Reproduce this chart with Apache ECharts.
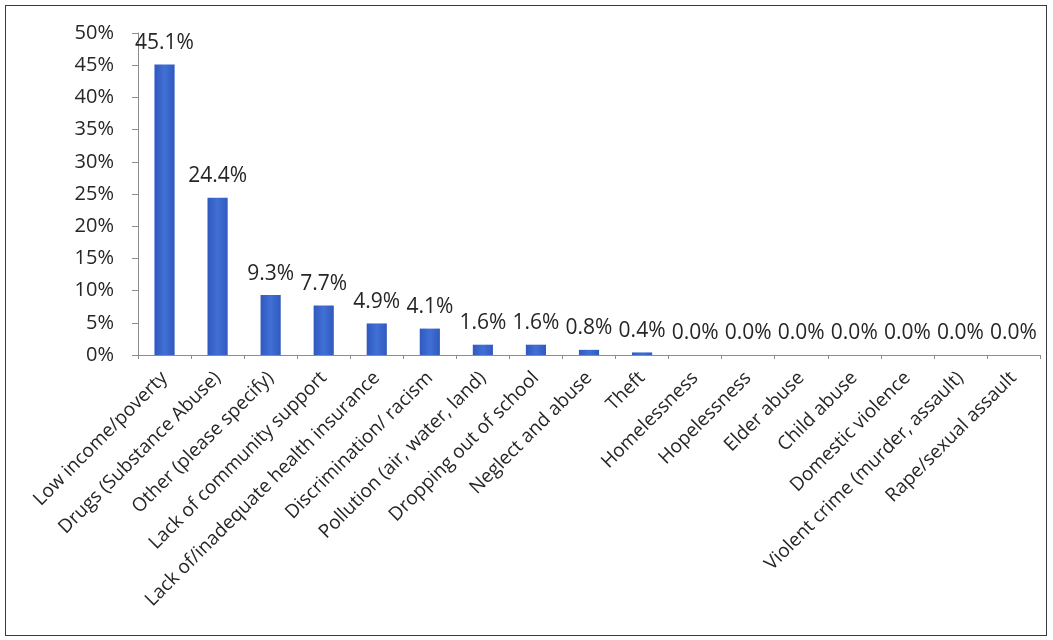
<!DOCTYPE html>
<html>
<head>
<meta charset="utf-8">
<script src="https://cdn.jsdelivr.net/npm/echarts@6/dist/echarts.min.js"></script>
<style>
  html, body { margin: 0; padding: 0; background: #ffffff; }
  #frame { position: absolute; left: 5px; top: 5px; width: 1042px; height: 631px;
           border: 1.5px solid #3a3a3a; box-sizing: border-box; }
  #chart { position: absolute; left: 0; top: 0; width: 1053px; height: 640px; }
</style>
</head>
<body>
<div id="frame"></div>
<div id="chart"></div>
<script>
// Survey responses: share of respondents naming each issue
const categories = [
  'Low income/poverty',
  'Drugs (Substance Abuse)',
  'Other (please specify)',
  'Lack of community support',
  'Lack of/inadequate health insurance',
  'Discrimination/ racism',
  'Pollution (air, water, land)',
  'Dropping out of school',
  'Neglect and abuse',
  'Theft',
  'Homelessness',
  'Hopelessness',
  'Elder abuse',
  'Child abuse',
  'Domestic violence',
  'Violent crime (murder, assault)',
  'Rape/sexual assault'
];
const shares = [45.1, 24.4, 9.3, 7.7, 4.9, 4.1, 1.6, 1.6, 0.8, 0.4, 0.0, 0.0, 0.0, 0.0, 0.0, 0.0, 0.0];
const yTicks = [0, 5, 10, 15, 20, 25, 30, 35, 40, 45, 50];

const chart = echarts.init(document.getElementById('chart'), null, { renderer: 'canvas' });
const font = 'Open Sans, Liberation Sans, sans-serif';

chart.setOption({
  backgroundColor: 'transparent',
  animation: false,
  grid: { left: 138, right: 13, top: 33, bottom: 285, containLabel: false },
  xAxis: {
    type: 'category',
    data: categories,
    axisLine: { lineStyle: { color: '#8c8c8c', width: 1 } },
    axisTick: { show: true, alignWithLabel: false, length: 4, lineStyle: { color: '#8c8c8c' } },
    axisLabel: { rotate: 45, interval: 0, fontSize: 19, color: '#262626', fontFamily: font, margin: 20 }
  },
  yAxis: {
    type: 'value',
    min: yTicks[0],
    max: yTicks[yTicks.length - 1],
    interval: 5,
    axisLine: { show: true, lineStyle: { color: '#8c8c8c', width: 1 } },
    axisTick: { show: true, length: 6, lineStyle: { color: '#8c8c8c' } },
    splitLine: { show: false },
    axisLabel: { fontSize: 20, color: '#262626', fontFamily: font, margin: 24,
                 formatter: v => v + '%' }
  },
  series: [{
    type: 'bar',
    data: shares,
    barWidth: '38%',
    itemStyle: {
      color: new echarts.graphic.LinearGradient(0, 0, 1, 0, [
        { offset: 0, color: '#3059c0' },
        { offset: 0.5, color: '#4170d4' },
        { offset: 1, color: '#3059c0' }
      ])
    },
    label: {
      show: true, position: 'top', distance: 11,
      fontSize: 21, color: '#262626', fontFamily: font,
      formatter: p => p.value.toFixed(1) + '%'
    }
  }]
});
</script>
</body>
</html>
